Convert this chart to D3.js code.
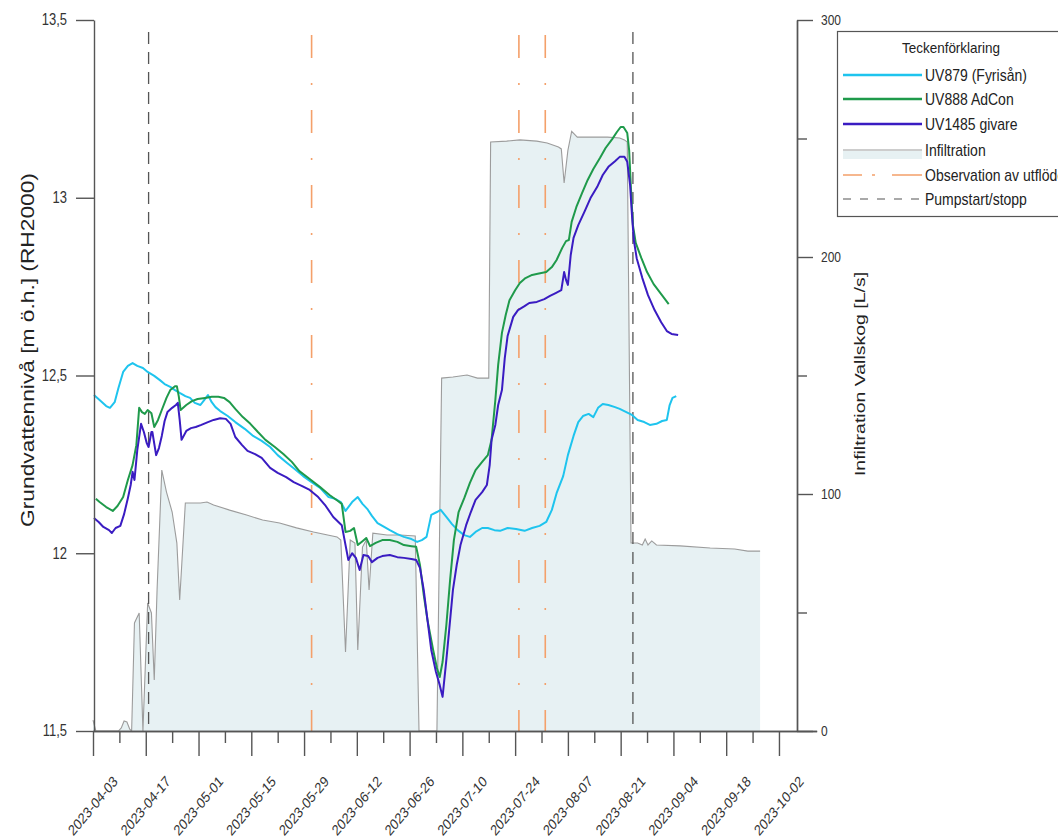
<!DOCTYPE html>
<html><head><meta charset="utf-8">
<script src="https://cdn.jsdelivr.net/npm/d3@7"></script>
<style>
body{margin:0;background:#fff;}
svg{display:block;}
text{font-family:"Liberation Sans", Arial, sans-serif; fill:#222;}
</style></head><body>
<svg id="c" width="1058" height="839"></svg>
<script>
// ---------- data (date "MM-DD HH" in 2023, value) ----------
const uv879 = [["04-03 06",12.445],["04-04 18",12.431],["04-06 12",12.414],["04-07 12",12.409],["04-08 18",12.425],["04-09 18",12.465],["04-11 00",12.51],["04-12 06",12.527],["04-13 12",12.535],["04-14 18",12.527],["04-16 06",12.521],["04-17 12",12.51],["04-19 06",12.499],["04-20 18",12.487],["04-22 00",12.476],["04-23 12",12.468],["04-24 18",12.459],["04-26 00",12.451],["04-27 12",12.442],["04-28 18",12.437],["04-30 00",12.423],["05-01 12",12.417],["05-02 12",12.431],["05-03 12",12.445],["05-04 12",12.425],["05-05 12",12.411],["05-06 18",12.40],["05-08 18",12.386],["05-10 18",12.369],["05-13 06",12.35],["05-15 12",12.33],["05-17 18",12.316],["05-20 00",12.299],["05-22 00",12.276],["05-24 12",12.254],["05-26 12",12.237],["05-28 18",12.217],["05-31 00",12.20],["06-02 06",12.184],["06-04 12",12.158],["06-06 06",12.153],["06-07 18",12.144],["06-09 00",12.119],["06-10 18",12.144],["06-12 06",12.158],["06-13 12",12.139],["06-14 18",12.125],["06-16 00",12.105],["06-17 12",12.085],["06-19 06",12.074],["06-20 18",12.065],["06-22 18",12.054],["06-24 12",12.046],["06-26 12",12.040],["06-28 00",12.032],["06-29 06",12.037],["06-30 12",12.046],["07-01 18",12.108],["07-03 06",12.116],["07-04 06",12.122],["07-05 18",12.102],["07-07 06",12.082],["07-08 18",12.065],["07-10 12",12.051],["07-12 00",12.046],["07-13 12",12.06],["07-15 06",12.071],["07-16 18",12.071],["07-18 12",12.065],["07-20 00",12.063],["07-22 00",12.071],["07-24 06",12.068],["07-26 12",12.063],["07-28 12",12.071],["07-30 12",12.077],["08-01 06",12.088],["08-02 18",12.122],["08-04 00",12.169],["08-05 18",12.217],["08-07 00",12.276],["08-08 12",12.33],["08-09 18",12.369],["08-11 00",12.386],["08-12 12",12.392],["08-13 18",12.383],["08-15 00",12.409],["08-16 06",12.42],["08-17 18",12.417],["08-19 12",12.411],["08-20 18",12.406],["08-22 12",12.397],["08-24 00",12.389],["08-25 12",12.375],["08-27 06",12.369],["08-28 18",12.361],["08-30 12",12.364],["09-01 00",12.372],["09-02 06",12.375],["09-03 00",12.417],["09-03 18",12.437],["09-04 18",12.442]];

const uv888 = [["04-03 18",12.153],["04-04 18",12.144],["04-06 12",12.130],["04-08 06",12.119],["04-09 12",12.133],["04-11 00",12.158],["04-12 06",12.206],["04-13 12",12.248],["04-14 12",12.304],["04-15 06",12.409],["04-16 00",12.397],["04-16 18",12.392],["04-17 12",12.403],["04-18 12",12.394],["04-19 06",12.355],["04-20 06",12.375],["04-21 06",12.403],["04-22 12",12.437],["04-23 12",12.459],["04-24 18",12.47],["04-25 06",12.47],["04-25 18",12.442],["04-26 06",12.403],["04-27 18",12.417],["04-29 06",12.428],["04-30 18",12.434],["05-02 18",12.437],["05-04 12",12.44],["05-06 06",12.44],["05-07 18",12.437],["05-09 06",12.425],["05-10 18",12.406],["05-12 18",12.383],["05-14 18",12.364],["05-16 18",12.341],["05-18 18",12.319],["05-21 06",12.299],["05-23 12",12.279],["05-25 18",12.257],["05-27 18",12.231],["05-30 12",12.209],["06-02 06",12.186],["06-04 18",12.164],["06-07 00",12.147],["06-08 00",12.139],["06-09 00",12.06],["06-10 06",12.063],["06-11 06",12.071],["06-12 06",12.023],["06-13 12",12.034],["06-14 12",12.043],["06-15 12",12.02],["06-17 00",12.029],["06-18 18",12.037],["06-20 18",12.037],["06-22 18",12.032],["06-24 12",12.023],["06-26 12",12.02],["06-27 18",12.018],["06-28 18",11.967],["06-29 18",11.883],["06-30 18",11.812],["07-02 06",11.728],["07-03 06",11.677],["07-04 00",11.652],["07-04 18",11.694],["07-05 18",11.798],["07-06 18",11.925],["07-07 18",12.037],["07-09 00",12.116],["07-10 12",12.155],["07-12 00",12.198],["07-13 12",12.234],["07-15 06",12.257],["07-16 18",12.276],["07-17 18",12.319],["07-18 18",12.431],["07-19 12",12.53],["07-20 12",12.62],["07-21 12",12.67],["07-22 12",12.712],["07-24 00",12.74],["07-25 06",12.76],["07-26 18",12.774],["07-28 12",12.783],["07-30 00",12.786],["08-01 06",12.791],["08-02 18",12.805],["08-04 00",12.825],["08-05 12",12.859],["08-06 12",12.878],["08-07 06",12.881],["08-08 00",12.932],["08-09 06",12.974],["08-10 18",13.013],["08-12 06",13.05],["08-13 18",13.081],["08-15 12",13.112],["08-17 00",13.14],["08-18 18",13.165],["08-20 00",13.185],["08-21 00",13.199],["08-21 18",13.199],["08-22 18",13.182],["08-23 06",13.134],["08-23 18",13.022],["08-24 06",12.923],["08-25 00",12.873],["08-26 12",12.83],["08-28 00",12.791],["08-29 18",12.757],["08-31 18",12.729],["09-02 18",12.701]];

const uv1485 = [["04-03 06",12.099],["04-04 12",12.088],["04-05 18",12.074],["04-07 06",12.065],["04-08 00",12.057],["04-09 00",12.071],["04-10 06",12.077],["04-11 06",12.11],["04-12 06",12.155],["04-13 00",12.192],["04-13 12",12.229],["04-14 00",12.206],["04-14 18",12.29],["04-15 18",12.364],["04-16 12",12.341],["04-17 06",12.31],["04-17 18",12.299],["04-18 12",12.341],["04-18 18",12.341],["04-19 18",12.276],["04-20 12",12.296],["04-21 06",12.33],["04-22 00",12.372],["04-22 18",12.397],["04-24 00",12.409],["04-25 00",12.417],["04-25 12",12.423],["04-26 00",12.375],["04-26 12",12.319],["04-27 18",12.344],["04-29 00",12.352],["04-30 06",12.355],["05-01 18",12.361],["05-03 12",12.369],["05-05 00",12.375],["05-06 18",12.38],["05-08 06",12.378],["05-09 12",12.364],["05-10 18",12.327],["05-12 12",12.305],["05-14 00",12.288],["05-16 00",12.279],["05-17 18",12.268],["05-20 00",12.24],["05-22 00",12.226],["05-24 06",12.214],["05-26 06",12.2],["05-28 12",12.189],["05-30 12",12.178],["06-01 18",12.158],["06-03 18",12.133],["06-05 18",12.102],["06-08 00",12.079],["06-08 18",12.037],["06-09 18",11.981],["06-10 18",12.0],["06-11 18",11.987],["06-12 18",11.953],["06-13 18",11.995],["06-15 00",11.992],["06-16 00",11.975],["06-17 12",11.987],["06-18 18",11.992],["06-20 18",11.995],["06-22 18",11.989],["06-24 12",11.987],["06-26 12",11.984],["06-27 18",11.981],["06-28 18",11.959],["06-29 18",11.897],["06-30 18",11.812],["07-01 18",11.728],["07-03 00",11.666],["07-04 00",11.629],["07-04 18",11.596],["07-05 18",11.7],["07-06 12",11.784],["07-07 12",11.897],["07-08 12",11.967],["07-09 12",12.023],["07-11 00",12.079],["07-12 06",12.116],["07-13 12",12.15],["07-15 06",12.172],["07-16 12",12.192],["07-17 06",12.248],["07-17 18",12.319],["07-18 18",12.361],["07-19 12",12.417],["07-20 12",12.459],["07-21 06",12.549],["07-22 00",12.611],["07-23 12",12.665],["07-24 18",12.684],["07-26 12",12.695],["07-27 18",12.704],["07-29 18",12.707],["07-31 18",12.715],["08-02 06",12.724],["08-03 18",12.732],["08-05 06",12.74],["08-06 00",12.791],["08-06 12",12.769],["08-07 00",12.755],["08-07 18",12.839],["08-08 12",12.887],["08-09 18",12.923],["08-11 12",12.963],["08-13 00",12.999],["08-14 18",13.03],["08-16 06",13.064],["08-17 18",13.087],["08-19 12",13.103],["08-20 18",13.115],["08-22 00",13.115],["08-22 18",13.101],["08-23 12",13.036],["08-24 00",12.951],["08-24 12",12.881],["08-25 06",12.83],["08-26 18",12.774],["08-28 06",12.726],["08-30 00",12.684],["08-31 18",12.65],["09-02 06",12.625],["09-03 12",12.617],["09-05 06",12.614]];

const infiltration = [["04-03 00",4.6],["04-03 18",0],["04-09 18",0],["04-10 12",1.3],["04-11 06",4.2],["04-12 00",3.8],["04-12 18",0.8],["04-13 06",0],["04-14 00",45.6],["04-15 06",49.8],["04-16 06",0],["04-17 12",54],["04-18 12",49.8],["04-19 06",21.5],["04-20 00",59.5],["04-21 06",110.1],["04-22 12",100.8],["04-24 00",92.4],["04-25 06",79.3],["04-26 00",55.3],["04-27 12",96.2],["05-01 12",96.2],["05-03 06",96.6],["05-05 00",95.4],["05-09 06",93.2],["05-13 18",91.1],["05-18 00",89],["05-22 12",87.8],["05-27 00",85.7],["05-31 12",84],["06-06 18",81.9],["06-07 18",80.6],["06-09 00",33.3],["06-10 06",80.6],["06-11 12",79.3],["06-12 06",34.2],["06-13 12",77.6],["06-14 12",80.6],["06-15 06",59.5],["06-16 06",83.5],["06-20 00",82.7],["06-23 12",82.7],["06-27 12",82.3],["06-28 12",0],["07-03 06",0],["07-04 12",148.9],["07-07 12",149.4],["07-11 06",150.2],["07-14 00",148.9],["07-17 00",148.9],["07-17 12",248.5],["07-21 18",248.9],["07-25 06",249.4],["07-29 18",248.9],["08-01 12",248.1],["08-04 12",246.4],["08-05 06",245.6],["08-06 00",231.2],["08-07 00",245],["08-08 00",253],["08-09 12",250.6],["08-13 18",250.6],["08-17 12",250.6],["08-20 18",250.2],["08-22 00",249.4],["08-22 18",248.5],["08-23 18",79.3],["08-25 12",79.3],["08-26 18",78.5],["08-27 12",81],["08-28 06",78.5],["08-29 06",80.2],["08-30 12",78.5],["09-05 18",78.1],["09-13 18",77.2],["09-20 06",76.8],["09-23 18",75.9],["09-27 00",75.9]];

const pumpStartStop = ["04-17 18","08-24 06"];
const outflowObservations = ["05-31 00","07-25 00","08-01 00"];

const leftTicks = [11.5, 12, 12.5, 13, 13.5];
const leftTickLabels = ["11,5","12","12,5","13","13,5"];
const rightTicks = [0, 100, 200, 300];
const rightMinorTicks = [50, 150, 250];

const legendItems = ["UV879 (Fyrisån)","UV888 AdCon","UV1485 givare","Infiltration","Observation av utflöde","Pumpstart/stopp"];

// ---------- setup ----------
const parse = d3.utcParse("%Y-%m-%d %H");
const P = s => parse("2023-" + s);
const SY = 1.2;            // vertical text stretch of the original
const AX = "#555";
const C = {cyan:"#1ec4ee", green:"#1f9a4b", indigo:"#3a1cc2", infLine:"#9c9c9c", infFill:"#e7f1f3", orange:"#f4a06a", pump:"#555"};

const svg = d3.select("#c");
const x = d3.scaleUtc().domain([P("04-03 00"), P("10-12 00")]).range([93, 93 + 192 * 3.769]);
const yL = d3.scaleLinear().domain([11.5, 13.5]).range([731, 20]);
const yR = d3.scaleLinear().domain([0, 300]).range([731, 20]);

function txt(sel, tx, ty, s, o = {}) {
  const t = sel.append("text")
    .attr("transform", `translate(${tx},${ty}) scale(1,${o.sy || SY})` + (o.rot ? ` rotate(${o.rot})` : ""))
    .attr("text-anchor", o.anchor || "start")
    .attr("dominant-baseline", "central")
    .style("font-size", (o.size || 12) + "px")
    .text(s);
  if (o.fill) t.style("fill", o.fill);
  return t;
}

// ---------- infiltration area ----------
const infData = infiltration.map(d => [P(d[0]), d[1]]);
svg.append("path").datum(infData)
  .attr("fill", C.infFill)
  .attr("d", d3.area().x(d => x(d[0])).y0(yR(0)).y1(d => yR(d[1])));
svg.append("path").datum(infData)
  .attr("fill", "none").attr("stroke", C.infLine).attr("stroke-width", 1.1)
  .attr("d", d3.line().x(d => x(d[0])).y(d => yR(d[1])));

// ---------- vertical event lines ----------
svg.selectAll(".obs").data(outflowObservations).join("line")
  .attr("x1", d => x(P(d))).attr("x2", d => x(P(d)))
  .attr("y1", 35).attr("y2", yR(0))
  .attr("stroke", C.orange).attr("stroke-width", 1.6)
  .attr("stroke-dasharray", "23,25,2,25");
svg.selectAll(".pump").data(pumpStartStop).join("line")
  .attr("x1", d => x(P(d))).attr("x2", d => x(P(d)))
  .attr("y1", 32).attr("y2", yR(0))
  .attr("stroke", C.pump).attr("stroke-width", 1.3)
  .attr("stroke-dasharray", "12,8");

// ---------- series lines ----------
const lineL = d3.line().x(d => x(P(d[0]))).y(d => yL(d[1])).curve(d3.curveLinear);
[[uv879, C.cyan], [uv888, C.green], [uv1485, C.indigo]].forEach(([data, col]) => {
  svg.append("path").datum(data)
    .attr("fill", "none").attr("stroke", col).attr("stroke-width", 2)
    .attr("stroke-linejoin", "round")
    .attr("d", lineL);
});

// ---------- axes ----------
function styleAxis(g) {
  g.selectAll("path,line").attr("stroke", AX).attr("stroke-width", 1.4);
  g.selectAll("text").remove();
}
const weekly = d3.utcMonday.range(P("04-03 00"), P("10-03 00"));
const major = weekly.filter((d, i) => i % 2 === 0);
const minor = weekly.filter((d, i) => i % 2 === 1);

svg.append("g").attr("transform", `translate(0,${yR(0)})`)
  .call(d3.axisBottom(x).tickValues(major).tickSize(25).tickSizeOuter(0).tickFormat(""))
  .call(styleAxis);
svg.append("g").attr("transform", `translate(0,${yR(0)})`)
  .call(d3.axisBottom(x).tickValues(minor).tickSize(12).tickSizeOuter(0).tickFormat(""))
  .call(styleAxis);
const fmt = d3.utcFormat("%Y-%m-%d");
major.forEach(d => txt(svg, x(d), 806, fmt(d), {size: 12.5, anchor: "middle", rot: -45, fill: "#333"}));

svg.append("g").attr("transform", `translate(94,0)`)
  .call(d3.axisLeft(yL).tickValues(leftTicks).tickSize(18).tickSizeOuter(0).tickFormat(""))
  .call(styleAxis);
leftTicks.forEach((v, i) => txt(svg, 67, yL(v), leftTickLabels[i], {size: 13, anchor: "end", fill: "#333"}));

svg.append("g").attr("transform", `translate(797,0)`)
  .call(d3.axisRight(yR).tickValues(rightTicks).tickSize(16).tickSizeOuter(0).tickFormat(""))
  .call(styleAxis);
svg.append("g").attr("transform", `translate(797,0)`)
  .call(d3.axisRight(yR).tickValues(rightMinorTicks).tickSize(10).tickSizeOuter(0).tickFormat(""))
  .call(styleAxis);
rightTicks.forEach(v => txt(svg, 821, yR(v), String(v), {size: 12, anchor: "start", fill: "#333"}));

// axis titles
txt(svg, 28, 350, "Grundvattennivå [m ö.h.] (RH2000)", {size: 17.5, anchor: "middle", rot: -90, sy: 1.3, fill: "#222"});
txt(svg, 860, 374, "Infiltration Vallskog [L/s]", {size: 15, anchor: "middle", rot: -90, sy: 1.3, fill: "#222"});

// ---------- legend ----------
const lg = svg.append("g");
lg.append("rect").attr("x", 837.5).attr("y", 31.5).attr("width", 240).attr("height", 185)
  .attr("fill", "#fff").attr("stroke", "#555").attr("stroke-width", 1.2);
txt(lg, 951, 48, "Teckenförklaring", {size: 13.5, anchor: "middle", sy: 1.15});
const rowY = [75, 99, 124, 150, 175, 199];
const lx0 = 843, lx1 = 922;
[[C.cyan], [C.green], [C.indigo]].forEach(([col], i) => {
  lg.append("line").attr("x1", lx0).attr("x2", lx1).attr("y1", rowY[i]).attr("y2", rowY[i])
    .attr("stroke", col).attr("stroke-width", 2.5);
});
lg.append("rect").attr("x", lx0).attr("y", rowY[3] + 1).attr("width", lx1 - lx0).attr("height", 8).attr("fill", C.infFill);
lg.append("line").attr("x1", lx0).attr("x2", lx1).attr("y1", rowY[3]).attr("y2", rowY[3])
  .attr("stroke", C.infLine).attr("stroke-width", 1.2);
lg.append("line").attr("x1", lx0).attr("x2", lx1).attr("y1", rowY[4]).attr("y2", rowY[4])
  .attr("stroke", C.orange).attr("stroke-width", 1.4).attr("stroke-dasharray", "19,10,3,17,30");
lg.append("line").attr("x1", lx0).attr("x2", lx1).attr("y1", rowY[5]).attr("y2", rowY[5])
  .attr("stroke", C.pump).attr("stroke-width", 1.2).attr("stroke-dasharray", "8,9");
legendItems.forEach((s, i) => txt(lg, 925, rowY[i], s, {size: 14, sy: 1.15}));
</script>
</body></html>
